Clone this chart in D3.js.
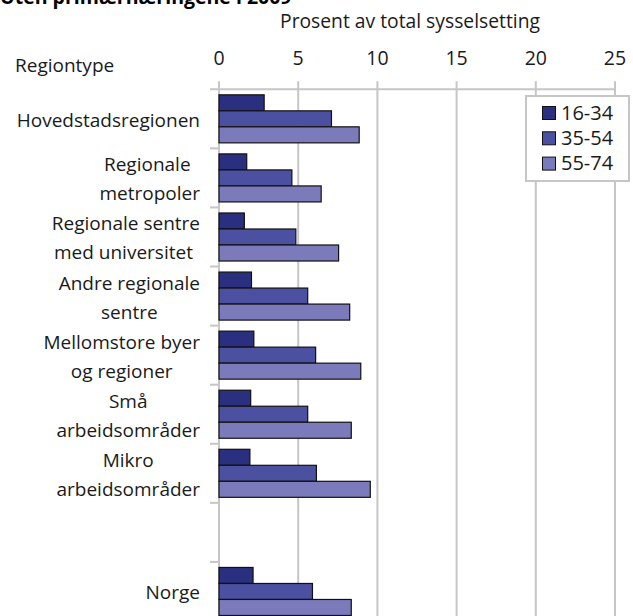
<!DOCTYPE html>
<html>
<head>
<meta charset="utf-8">
<script src="https://cdn.jsdelivr.net/npm/d3@7"></script>
<style>
  html, body { margin: 0; padding: 0; background: #fff; }
  svg { display: block; font-family: "Open Sans", sans-serif; }
</style>
</head>
<body>
<div id="chart"></div>
<script>
// Region types (label lines) - blank slot before Norge
const categories = [
    ["Hovedstadsregionen"],
    ["Regionale ", "metropoler"],
    ["Regionale sentre", "med universitet "],
    ["Andre regionale", "sentre"],
    ["Mellomstore byer", "og regioner"],
    ["Små", "arbeidsområder"],
    ["Mikro", "arbeidsområder"],
    [],
    ["Norge"]
];
const categoryKeys = ["hov", "met", "uni", "andre", "mellom", "sma", "mikro", "blank", "norge"];

const seriesNames = ["16-34", "35-54", "55-74"];
const seriesColors = ["#2b2f80", "#4b50a1", "#7b7bbb"];

const values1634 = [2.85, 1.75, 1.6, 2.05, 2.2, 2.0, 1.95, null, 2.15];
const values3554 = [7.1, 4.6, 4.85, 5.6, 6.1, 5.6, 6.15, null, 5.9];
const values5574 = [8.85, 6.45, 7.55, 8.25, 8.95, 8.35, 9.55, null, 8.35];

const xTicks = [0, 5, 10, 15, 20, 25];

const width = 633, height = 616;
const x0 = 219, x1 = 615;
const yTop = 89.3, yBottom = 621;

const svg = d3.select("#chart")
    .append("svg")
    .attr("width", width)
    .attr("height", height);

const x = d3.scaleLinear().domain([0, 25]).range([x0, x1]);

const y = d3.scaleBand()
    .domain(categoryKeys)
    .range([yTop, yBottom])
    .padding(0);

const ySub = d3.scaleBand()
    .domain(seriesNames)
    .range([0, y.bandwidth()])
    .paddingInner(0)
    .paddingOuter(0.345);

// Vertical gridlines + ticks above top line
svg.append("g")
    .selectAll("line")
    .data(xTicks)
    .enter()
    .append("line")
    .attr("x1", d => x(d))
    .attr("x2", d => x(d))
    .attr("y1", yTop - 8)
    .attr("y2", height)
    .attr("stroke", "#c6c6c6")
    .attr("stroke-width", 2);

// Top axis line
svg.append("line")
    .attr("x1", x0 - 9)
    .attr("x2", x1)
    .attr("y1", yTop)
    .attr("y2", yTop)
    .attr("stroke", "#c6c6c6")
    .attr("stroke-width", 2);

// Category ticks on the left
svg.append("g")
    .selectAll("line")
    .data(categoryKeys.slice(1))
    .enter()
    .append("line")
    .attr("x1", x0 - 9)
    .attr("x2", x0)
    .attr("y1", d => y(d))
    .attr("y2", d => y(d))
    .attr("stroke", "#c6c6c6")
    .attr("stroke-width", 2);

// Tick labels
svg.append("g")
    .selectAll("text")
    .data(xTicks)
    .enter()
    .append("text")
    .attr("x", d => x(d))
    .attr("y", 65)
    .attr("text-anchor", "middle")
    .style("font-size", "19.5px")
    .style("fill", "#1a1a1a")
    .text(d => d);

// Axis title
svg.append("text")
    .attr("x", 410)
    .attr("y", 28)
    .attr("text-anchor", "middle")
    .style("font-size", "19.3px")
    .style("fill", "#1a1a1a")
    .text("Prosent av total sysselsetting");

// Chart title (cut off at top, as in the original)
svg.append("text")
    .attr("x", 0)
    .attr("y", 4)
    .style("font-size", "19.5px")
    .style("font-weight", "bold")
    .style("fill", "#000")
    .text("Uten primærnæringene i 2009");

svg.append("text")
    .attr("x", 15)
    .attr("y", 72)
    .style("font-size", "19px")
    .style("fill", "#1a1a1a")
    .text("Regiontype");

// Bars
const allValues = [values1634, values3554, values5574];
seriesNames.forEach((s, si) => {
    svg.append("g")
        .selectAll("rect")
        .data(categoryKeys.map((k, i) => ({key: k, value: allValues[si][i]})).filter(d => d.value != null))
        .enter()
        .append("rect")
        .attr("x", x(0))
        .attr("y", d => y(d.key) + ySub(s))
        .attr("width", d => x(d.value) - x(0))
        .attr("height", ySub.bandwidth())
        .attr("fill", seriesColors[si])
        .attr("stroke", "#111")
        .attr("stroke-width", 1.2);
});

// Category labels: block right-aligned, lines centred inside
const labelRight = 200, lineGap = 29;
categories.forEach((lines, i) => {
    if (!lines.length) return;
    const g = svg.append("g");
    const texts = lines.map(l => g.append("text")
        .style("font-size", "19px")
        .style("white-space", "pre")
        .style("fill", "#1a1a1a")
        .attr("text-anchor", "middle")
        .text(l));
    const maxW = d3.max(texts, t => t.node().getComputedTextLength());
    const cx = labelRight - maxW / 2;
    const cy = y(categoryKeys[i]) + y.bandwidth() / 2;
    texts.forEach((t, li) => {
        t.attr("x", cx)
         .attr("y", cy + 8 + (li - (lines.length - 1) / 2) * lineGap);
    });
});

// Legend
const legend = svg.append("g");
legend.append("rect")
    .attr("x", 526)
    .attr("y", 96)
    .attr("width", 103)
    .attr("height", 85)
    .attr("fill", "#fff")
    .attr("stroke", "#c6c6c6")
    .attr("stroke-width", 2);

seriesNames.forEach((s, i) => {
    const by = 119.5 + i * 25.3;
    legend.append("rect")
        .attr("x", 542.5)
        .attr("y", by - 13)
        .attr("width", 13)
        .attr("height", 13)
        .attr("fill", seriesColors[i])
        .attr("stroke", "#111")
        .attr("stroke-width", 1);
    legend.append("text")
        .attr("x", 561)
        .attr("y", by)
        .style("font-size", "20px")
        .style("fill", "#1a1a1a")
        .text(s);
});
</script>
</body>
</html>
